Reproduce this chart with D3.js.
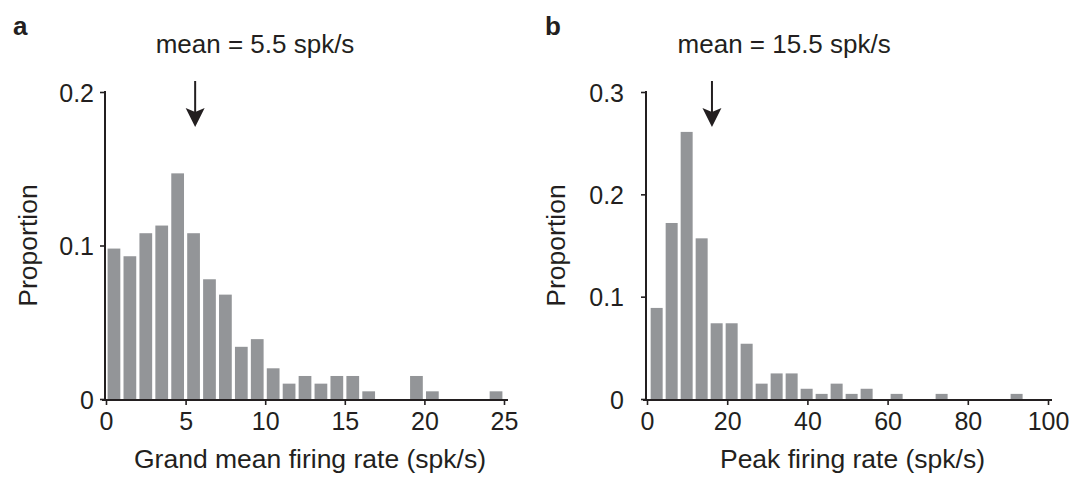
<!DOCTYPE html>
<html>
<head>
<meta charset="utf-8">
<script src="https://cdn.jsdelivr.net/npm/d3@7"></script>
<style>
  body { margin: 0; background: #fff; }
  svg text { font-family: "Liberation Sans", Arial, sans-serif; fill: #231f20; }
</style>
</head>
<body>
<div id="chart"></div>
<script>
// panel a: grand mean firing rate, 1 spk/s bins
const grandMeanBins = d3.range(0, 25);
const grandMeanProp = [0.098, 0.093, 0.108, 0.113, 0.147, 0.108, 0.078, 0.068, 0.034, 0.039,
  0.020, 0.010, 0.015, 0.010, 0.015, 0.015, 0.005, 0, 0, 0.015, 0.005, 0, 0, 0, 0.005];
const grandMeanXTicks = [0, 5, 10, 15, 20, 25];
const grandMeanYTicks = [0, 0.1, 0.2];

// panel b: peak firing rate
const peakBinStart = 0.54;
const peakBinWidth = 3.74;
const peakProp = [0.089, 0.172, 0.261, 0.157, 0.074, 0.074, 0.054, 0.015, 0.025, 0.025,
  0.010, 0.005, 0.015, 0.005, 0.010, 0, 0.005, 0, 0, 0.005, 0, 0, 0, 0, 0.005];
const peakXTicks = [0, 20, 40, 60, 80, 100];
const peakYTicks = [0, 0.1, 0.2, 0.3];

const arrowAt = [5.6, 16.2];
const meanLabels = ['mean = 5.5 spk/s', 'mean = 15.5 spk/s'];
const meanLabelAt = [9.36, 34.2];   // label centre, in x-axis units
const xLabels = ['Grand mean firing rate (spk/s)', 'Peak firing rate (spk/s)'];
const panelLetters = ['a', 'b'];

const width = 1075, height = 479;
const ink = '#231f20';
const barColor = '#939598';

const svg = d3.select('#chart').append('svg')
  .attr('width', width)
  .attr('height', height);

const panels = [
  {
    x: d3.scaleLinear().domain([0, 25]).range([106, 504]),
    y: d3.scaleLinear().domain([0, 0.2]).range([399, 92]),
    bars: grandMeanProp.map((v, i) => ({ x0: grandMeanBins[i], x1: grandMeanBins[i] + 1, v })),
    xTicks: grandMeanXTicks, yTicks: grandMeanYTicks, yPad: 6,
    letterX: 13, labelX: 37
  },
  {
    x: d3.scaleLinear().domain([0, 100]).range([647, 1048]),
    y: d3.scaleLinear().domain([0, 0.3]).range([399, 92]),
    bars: peakProp.map((v, i) => ({ x0: peakBinStart + i * peakBinWidth, x1: peakBinStart + (i + 1) * peakBinWidth, v })),
    xTicks: peakXTicks, yTicks: peakYTicks, yPad: 17,
    letterX: 545, labelX: 565
  }
];

panels.forEach((p, k) => {
  const g = svg.append('g');
  const [x0, x1] = p.x.range();
  const [y0, y1] = p.y.range();

  // bars
  g.selectAll('rect.bar')
    .data(p.bars.filter(d => d.v > 0))
    .enter().append('rect')
    .attr('class', 'bar')
    .attr('x', d => {
      const w = p.x(d.x1) - p.x(d.x0);
      return p.x(d.x0) + w * 0.1;
    })
    .attr('width', d => (p.x(d.x1) - p.x(d.x0)) * 0.8)
    .attr('y', d => p.y(d.v))
    .attr('height', d => p.y(0) - p.y(d.v))
    .attr('fill', barColor);

  // axes
  const yAxis = g.append('g')
    .attr('transform', `translate(${x0 - 1},0)`)
    .call(d3.axisLeft(p.y).tickValues(p.yTicks).tickSize(5).tickSizeOuter(0)
      .tickPadding(p.yPad).tickFormat(d3.format('')));
  const xAxis = g.append('g')
    .attr('transform', `translate(0,${y0 + 1})`)
    .call(d3.axisBottom(p.x).tickValues(p.xTicks).tickSize(5).tickSizeOuter(0)
      .tickPadding(6).tickFormat(d3.format('')));

  [yAxis, xAxis].forEach(ax => {
    ax.select('.domain').remove();
    ax.selectAll('.tick line').attr('stroke', ink).attr('stroke-width', 1.6);
    ax.selectAll('.tick text')
      .attr('fill', ink)
      .style('font-size', '25px');
  });
  xAxis.selectAll('.tick text').attr('dy', '0.74em');
  yAxis.selectAll('.tick text').attr('dy', '0.36em');

  // axis lines
  g.append('line')
    .attr('x1', x0 - 1).attr('x2', x0 - 1)
    .attr('y1', y1 - 1).attr('y2', y0 + 2)
    .attr('stroke', ink).attr('stroke-width', 2);
  g.append('line')
    .attr('x1', x0 - 4).attr('x2', x1 + 4)
    .attr('y1', y0 + 1).attr('y2', y0 + 1)
    .attr('stroke', ink).attr('stroke-width', 2);

  // mean arrow
  const ax = p.x(arrowAt[k]);
  g.append('line')
    .attr('x1', ax).attr('x2', ax)
    .attr('y1', 81).attr('y2', 114)
    .attr('stroke', ink).attr('stroke-width', 2);
  g.append('path')
    .attr('d', d3.line()([[ax - 9.5, 108], [ax, 112], [ax + 9.5, 108], [ax, 127]]) + 'Z')
    .attr('fill', ink);

  // texts
  g.append('text')
    .attr('x', p.x(meanLabelAt[k]))
    .attr('y', 53)
    .attr('text-anchor', 'middle')
    .style('font-size', '26px')
    .text(meanLabels[k]);

  g.append('text')
    .attr('x', (x0 + x1) / 2 + 5)
    .attr('y', 468)
    .attr('text-anchor', 'middle')
    .style('font-size', '26.5px')
    .text(xLabels[k]);

  g.append('text')
    .attr('transform', `translate(${p.labelX},${(y0 + y1) / 2}) rotate(-90)`)
    .attr('text-anchor', 'middle')
    .style('font-size', '26.5px')
    .text('Proportion');

  g.append('text')
    .attr('x', p.letterX)
    .attr('y', 35)
    .style('font-size', '26px')
    .style('font-weight', 'bold')
    .text(panelLetters[k]);
});
</script>
</body>
</html>
